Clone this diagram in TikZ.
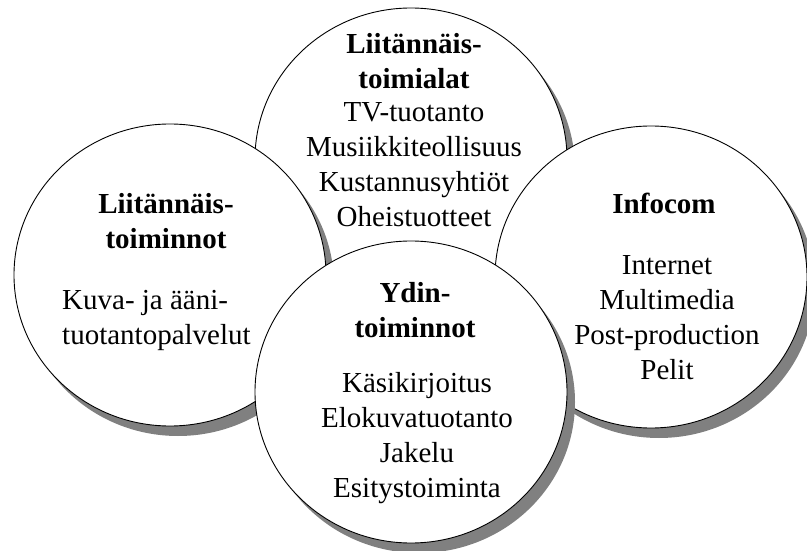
\documentclass[tikz,border=0pt]{standalone}
\usepackage{fontspec}
\setmainfont{Liberation Serif}
\usetikzlibrary{shapes.geometric,shadows}

\begin{document}
\begin{tikzpicture}[x=1pt, y=-1pt,
  every node/.style={font=\fontsize{29}{35}\selectfont, inner sep=0pt},
  ring/.style={draw, line width=0.9pt, fill=white, ellipse, minimum width=312pt, minimum height=302pt,
    drop shadow={shadow xshift=8pt, shadow yshift=-10pt, fill=black!50, opacity=1}},
  head/.style={font=\fontsize{29}{35}\selectfont\bfseries, align=center, anchor=north},
  list/.style={align=center, anchor=north}]
  \useasboundingbox (0,0) rectangle (807,551);
  % four overlapping rings, back to front
  \node[ring] (toimialat) at (411,159) {};
  \node[ring] (toiminnot) at (170,275) {};
  \node[ring] (infocom) at (651,277) {};
  \node[ring] (ydin) at (411,392) {};
  % texts in the rings
  \node[head] (toimialat-head) at (414,33) {Liitännäis-\\toimialat};
  \node[list] (toimialat-list) at (414,102) {TV-tuotanto\\Musiikkiteollisuus\\Kustannusyhtiöt\\Oheistuotteet};
  \node[head] (toiminnot-head) at (166,193) {Liitännäis-\\toiminnot};
  \node[list, align=left, anchor=north west] (toiminnot-list) at (62,290) {Kuva- ja ääni-\\tuotantopalvelut};
  \node[head] (infocom-head) at (664,193) {Infocom};
  \node[list] (infocom-list) at (667,255) {Internet\\Multimedia\\Post-production\\Pelit};
  \node[head] (ydin-head) at (415,282) {Ydin-\\toiminnot};
  \node[list] (ydin-list) at (417,372) {Käsikirjoitus\\Elokuvatuotanto\\Jakelu\\Esitystoiminta};
\end{tikzpicture}
\end{document}
